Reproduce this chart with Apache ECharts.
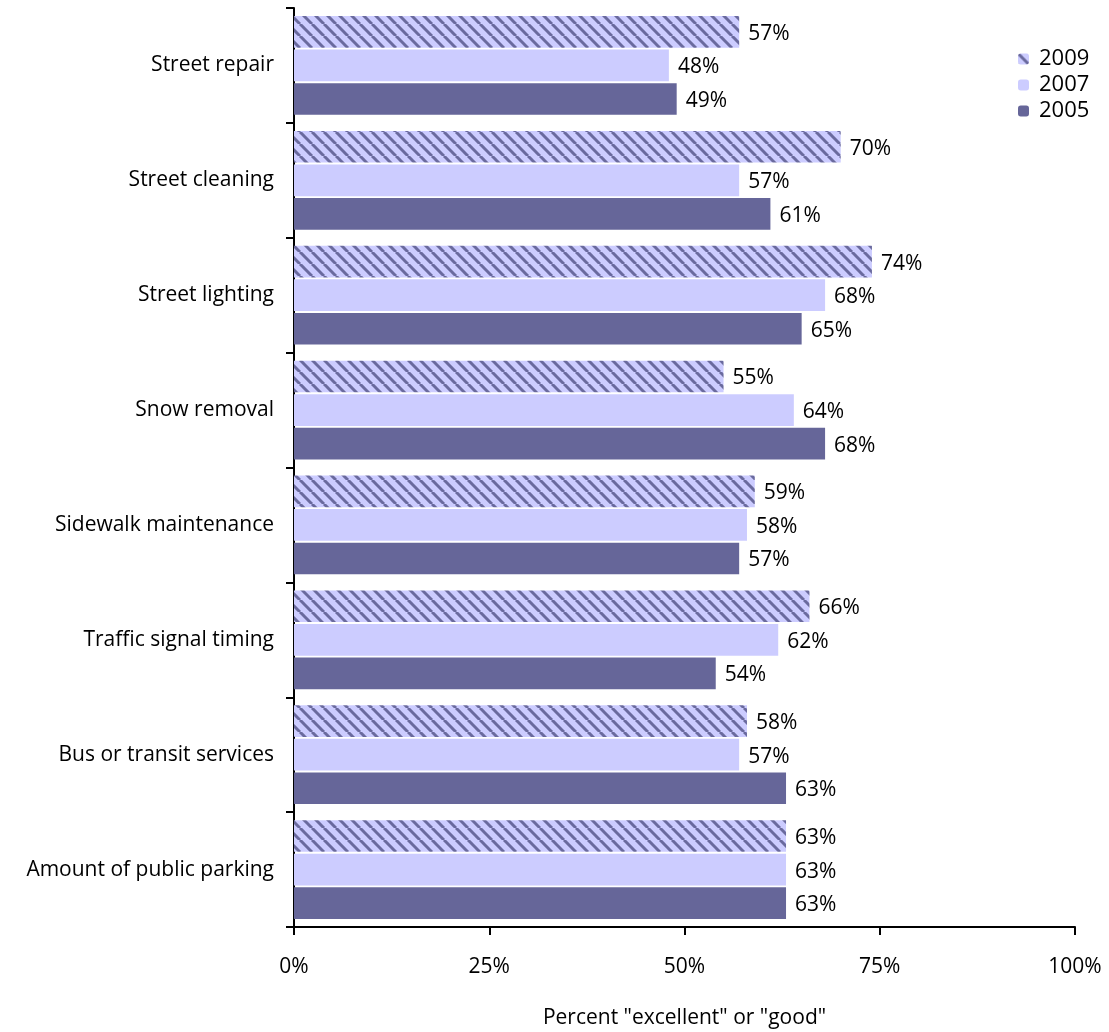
<!DOCTYPE html>
<html><head><meta charset="utf-8">
<script src="https://cdn.jsdelivr.net/npm/echarts@6/dist/echarts.min.js"></script>
<style>html,body{margin:0;padding:0;background:#fff}#c{width:1109px;height:1032px}</style>
</head><body><div id="c"></div>
<script>
const categories = ["Street repair","Street cleaning","Street lighting","Snow removal","Sidewalk maintenance","Traffic signal timing","Bus or transit services","Amount of public parking"];
const seriesNames = ["2009","2007","2005"];
const v2009 = [57,70,74,55,59,66,58,63];
const v2007 = [48,57,68,64,58,62,57,63];
const v2005 = [49,61,65,68,57,54,63,63];
const xTicks = [0,25,50,75,100];

function hatch(){
  const s=12, c=document.createElement('canvas'); c.width=s; c.height=s;
  const g=c.getContext('2d');
  g.fillStyle='#CCCCFF'; g.fillRect(0,0,s,s);
  g.strokeStyle='#6A6A9E'; g.lineWidth=3;
  [[-s,0],[0,0],[s,0]].forEach(([dx])=>{g.beginPath();g.moveTo(dx,0);g.lineTo(dx+s,s);g.stroke();});
  return c;
}
const hatchColor={image:hatch(),repeat:'repeat'};
const FONT='Open Sans';
const FS=21;
const chart=echarts.init(document.getElementById('c'));
const lbl={show:true,position:'right',distance:9,offset:[0,2],formatter:'{c}%',color:'#000',fontFamily:FONT,fontSize:FS};
chart.setOption({
  animation:false,
  textStyle:{fontFamily:FONT},
  grid:{left:294,right:34,top:8,bottom:105,containLabel:false,outerBoundsMode:'none'},
  legend:{orient:'vertical',left:1013,top:43,itemWidth:11,itemHeight:11,itemGap:4,
    textStyle:{fontFamily:FONT,fontSize:22,color:'#000',padding:[0,0,0,5]},data:seriesNames},
  xAxis:{type:'value',min:0,max:100,interval:25,
    axisLine:{show:true,lineStyle:{color:'#000',width:2}},
    axisTick:{show:true,length:8,lineStyle:{color:'#000',width:2}},
    splitLine:{show:false},
    axisLabel:{formatter:'{value}%',color:'#000',fontFamily:FONT,fontSize:FS,margin:30},
    name:'Percent "excellent" or "good"',nameLocation:'middle',nameGap:81,
    nameTextStyle:{color:'#000',fontFamily:FONT,fontSize:FS}},
  yAxis:{type:'category',data:categories,inverse:true,
    axisLine:{show:true,lineStyle:{color:'#000',width:2}},
    axisTick:{show:true,length:8,alignWithLabel:false,lineStyle:{color:'#000',width:2}},
    axisLabel:{color:'#000',fontFamily:FONT,fontSize:FS,margin:20,padding:[6,0,0,0]}},
  series:[
    {name:'2009',type:'bar',data:v2009,itemStyle:{color:hatchColor},label:lbl,barCategoryGap:'14%',barGap:'6%'},
    {name:'2007',type:'bar',data:v2007,itemStyle:{color:'#CCCCFF'},label:lbl,barCategoryGap:'14%',barGap:'6%'},
    {name:'2005',type:'bar',data:v2005,itemStyle:{color:'#666699'},label:lbl,barCategoryGap:'14%',barGap:'6%'}
  ]
});
</script></body></html>
